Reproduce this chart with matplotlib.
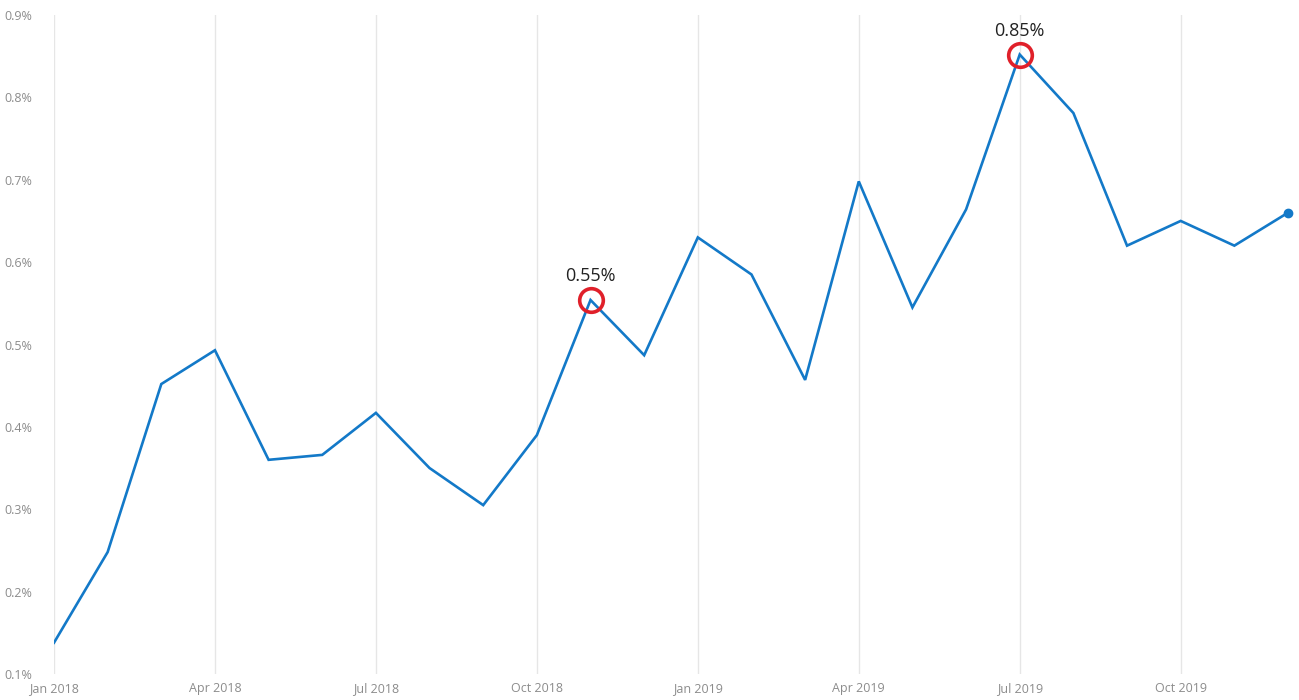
import numpy as np
import matplotlib.pyplot as plt
from matplotlib.ticker import FuncFormatter

plt.rcParams["font.family"] = ["Open Sans", "DejaVu Sans"]

# monthly values, Jan 2018 - Dec 2019 (percent)
months = [
    "Jan 2018", "Feb 2018", "Mar 2018", "Apr 2018", "May 2018", "Jun 2018",
    "Jul 2018", "Aug 2018", "Sep 2018", "Oct 2018", "Nov 2018", "Dec 2018",
    "Jan 2019", "Feb 2019", "Mar 2019", "Apr 2019", "May 2019", "Jun 2019",
    "Jul 2019", "Aug 2019", "Sep 2019", "Oct 2019", "Nov 2019", "Dec 2019",
]
rate = [
    0.138, 0.248, 0.452, 0.493, 0.360, 0.366,
    0.417, 0.350, 0.305, 0.390, 0.554, 0.487,
    0.630, 0.585, 0.457, 0.698, 0.545, 0.664,
    0.852, 0.781, 0.620, 0.650, 0.620, 0.660,
]
highlight_idx = [10, 18]
highlight_labels = ["0.55%", "0.85%"]
yticks = [0.1, 0.2, 0.3, 0.4, 0.5, 0.6, 0.7, 0.8, 0.9]

x = np.arange(len(months))

fig = plt.figure(figsize=(12.99, 7.0), dpi=100)
ax = fig.add_axes([54 / 1299, 26 / 700, (1288 - 54) / 1299, (674 - 15) / 700])

line_color = "#1379C8"
ax.plot(x, rate, color=line_color, linewidth=1.9, solid_joinstyle="miter", zorder=3)
ax.plot(x[-1], rate[-1], "o", color=line_color, markersize=6, zorder=4, clip_on=False)

for i, lab in zip(highlight_idx, highlight_labels):
    ax.plot(x[i], rate[i], "o", markersize=17, markerfacecolor="none",
            markeredgecolor="#E0202A", markeredgewidth=2.6, zorder=5, clip_on=False)
    ax.annotate(lab, (x[i], rate[i]), xytext=(0, 17), textcoords="offset points",
                ha="center", va="center", fontsize=13, color="#222222")

ax.set_xlim(0, len(months) - 1)
ax.set_ylim(0.1, 0.9)

qtr = x[::3]
ax.set_xticks(qtr)
ax.set_xticklabels([months[i] for i in qtr])
ax.set_yticks(yticks)
ax.yaxis.set_major_formatter(FuncFormatter(lambda v, p: f"{v:.1f}%"))

ax.grid(axis="x", color="#E6E6E6", linewidth=1)
ax.grid(axis="y", visible=False)
for s in ax.spines.values():
    s.set_visible(False)

ax.tick_params(axis="both", length=0, labelsize=9, labelcolor="#8C8C8C")
ax.tick_params(axis="x", pad=6)
ax.tick_params(axis="y", pad=36)
for t in ax.get_yticklabels():
    t.set_horizontalalignment("left")
ax.set_axisbelow(True)

fig.savefig("out.png", dpi=100)
